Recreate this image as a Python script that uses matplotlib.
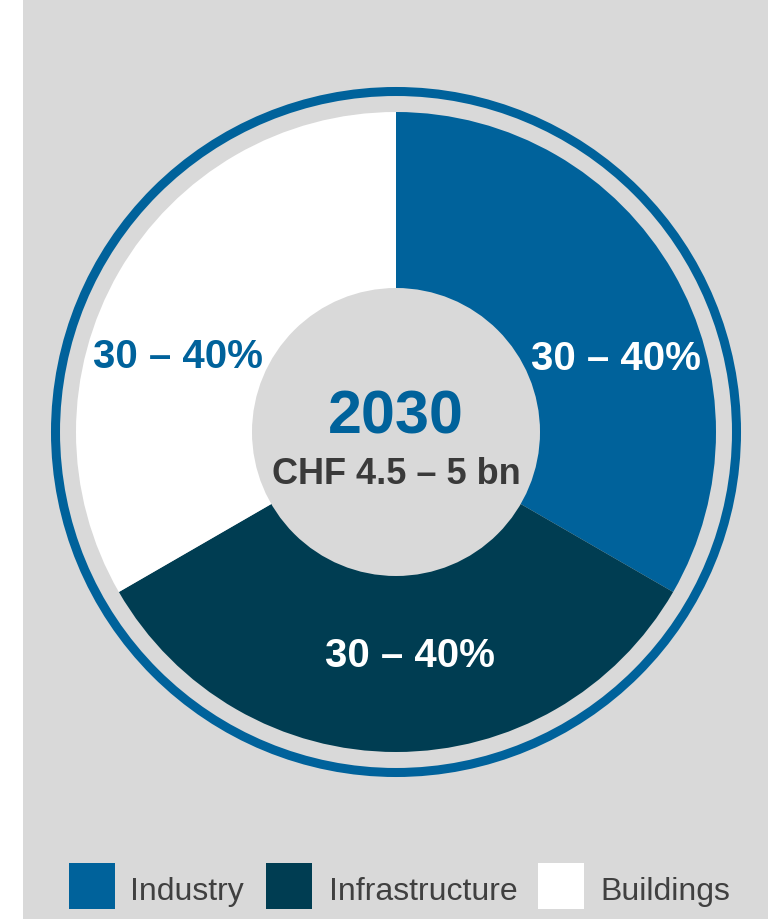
import matplotlib
matplotlib.use('Agg')
import matplotlib.pyplot as plt
from matplotlib.patches import Circle, Rectangle

plt.rcParams['font.family'] = ['Liberation Sans', 'DejaVu Sans']

# data
categories = ['Industry', 'Infrastructure', 'Buildings']
shares = [1, 1, 1]
share_labels = ['30 – 40%', '30 – 40%', '30 – 40%']
year = '2030'
total = 'CHF 4.5 – 5 bn'

colors = ['#00629b', '#003d52', '#ffffff']
label_colors = ['#ffffff', '#ffffff', '#00629b']
bg = '#d9d9d9'


def main():
    fig = plt.figure(figsize=(7.8, 9.19), dpi=100)
    fig.patch.set_facecolor('white')

    ax = fig.add_axes([0, 0, 1, 1])
    ax.set_facecolor('none')
    # grey panel
    ax.add_patch(Rectangle((23, 0), 745, 919, facecolor=bg, edgecolor='none', zorder=0))

    cx, cy = 396, 487
    ax.pie(shares, colors=colors, startangle=90, counterclock=False,
           center=(cx, cy), radius=320, wedgeprops=dict(linewidth=0, zorder=1))
    ax.add_patch(Circle((cx, cy), 144, facecolor=bg, edgecolor='none', zorder=3))
    ax.add_patch(Circle((cx, cy), 340.5, fill=False, edgecolor='#00629b', linewidth=6.5, zorder=3))

    # share labels, offsets from the centre in pixels
    offsets = [(220, 73), (14, -224), (-218, 75)]
    for (dx, dy), txt, c in zip(offsets, share_labels, label_colors):
        ax.text(cx + dx, cy + dy, txt, ha='center', va='center', fontsize=29,
                fontweight='bold', color=c, zorder=4)

    ax.text(cx, cy + 14, year, ha='center', va='center', fontsize=44,
            fontweight='bold', color='#00629b', zorder=4)
    ax.text(cx, cy - 42, total, ha='center', va='center', fontsize=26,
            fontweight='bold', color='#3a3a3a', zorder=4)

    # legend
    box_x = [69, 266, 538]
    text_x = [130, 329, 600]
    for bx, tx, name, c in zip(box_x, text_x, categories, colors):
        ax.add_patch(Rectangle((bx, 10), 46, 46, facecolor=c, edgecolor='none', zorder=4))
        ax.text(tx, 19, name, ha='left', va='baseline', fontsize=23, color='#404040', zorder=4)

    ax.set_xlim(0, 780)
    ax.set_ylim(0, 919)
    ax.set_aspect('auto')
    ax.axis('off')

    fig.savefig('out.png', dpi=100, facecolor=fig.get_facecolor())


if __name__ == '__main__':
    main()
